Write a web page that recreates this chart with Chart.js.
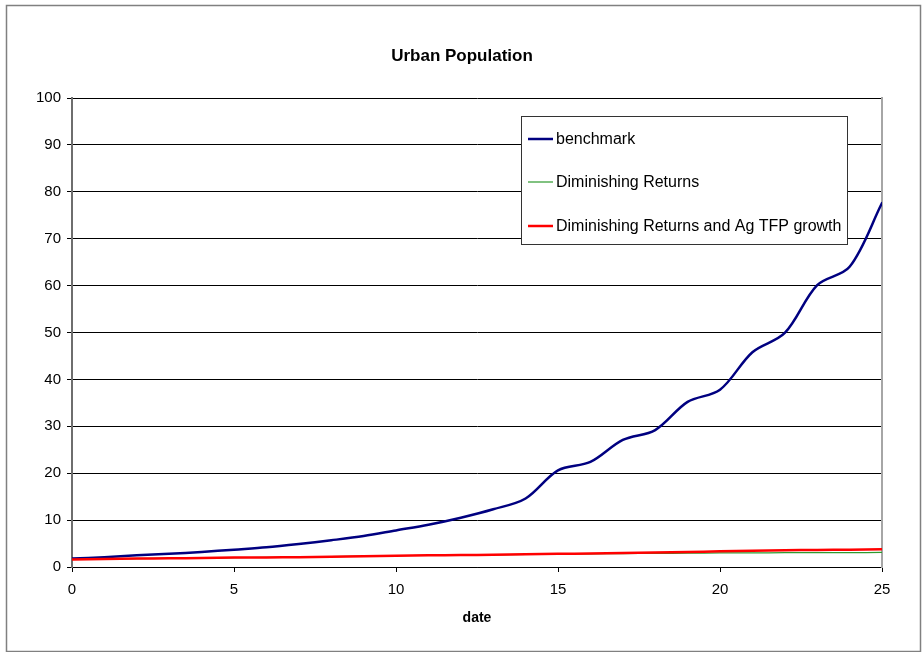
<!DOCTYPE html>
<html>
<head>
<meta charset="utf-8">
<title>Urban Population</title>
<script src="https://cdn.jsdelivr.net/npm/chart.js@4"></script>
<style>
  html, body { margin: 0; padding: 0; background: #ffffff; }
  #wrap { width: 924px; height: 652px; position: relative; }
</style>
</head>
<body>
<div id="wrap"><canvas id="chart" width="924" height="652"></canvas></div>
<script>
// Simulation dates (periods 0..25)
const dates = [0,1,2,3,4,5,6,7,8,9,10,11,12,13,14,15,16,17,18,19,20,21,22,23,24,25];

// Urban population share under each scenario
const benchmark = [1.8,2.1,2.5,2.8,3.2,3.7,4.2,4.9,5.7,6.6,7.8,9.0,10.5,12.3,14.6,20.6,22.4,27.1,29.2,35.2,37.8,45.8,49.9,60.1,64.0,77.6];
const diminishingReturns = [1.6,1.7,1.8,1.85,1.9,2.0,2.05,2.1,2.2,2.3,2.4,2.5,2.55,2.6,2.7,2.75,2.8,2.85,2.9,2.95,3.0,3.0,3.05,3.05,3.05,3.1];
const dimReturnsAgTFP = [1.6,1.7,1.8,1.85,1.9,2.0,2.05,2.1,2.2,2.3,2.4,2.5,2.55,2.6,2.7,2.8,2.9,3.0,3.1,3.2,3.35,3.45,3.55,3.65,3.7,3.8];

const seriesNames = ['benchmark', 'Diminishing Returns', 'Diminishing Returns and Ag TFP growth'];
const xTicks = [0, 5, 10, 15, 20, 25];
const yTicks = [0, 10, 20, 30, 40, 50, 60, 70, 80, 90, 100];

const FONT = 'Arial, "Liberation Sans", sans-serif';

function toPoints(values) {
  return dates.map((d, i) => ({ x: d, y: values[i] }));
}

// White page with a thin frame around the whole figure
const framePlugin = {
  id: 'frame',
  beforeDraw(chart) {
    const ctx = chart.ctx;
    ctx.save();
    ctx.fillStyle = '#ffffff';
    ctx.fillRect(0, 0, chart.width, chart.height);
    ctx.strokeStyle = '#808080';
    ctx.lineWidth = 1.5;
    ctx.strokeRect(6.5, 5.5, chart.width - 10, chart.height - 6);
    ctx.restore();
  }
};

// Boxed legend sitting inside the plot area
const boxLegend = {
  id: 'boxLegend',
  afterDraw(chart) {
    const ctx = chart.ctx;
    const x0 = 521, y0 = 116, w = 326, h = 128;
    const rows = [139, 182, 226];
    ctx.save();
    ctx.fillStyle = '#ffffff';
    ctx.fillRect(x0, y0, w, h);
    ctx.strokeStyle = '#333333';
    ctx.lineWidth = 1;
    ctx.strokeRect(x0 + 0.5, y0 + 0.5, w, h);
    ctx.font = '16px ' + FONT;
    ctx.textBaseline = 'middle';
    ctx.textAlign = 'left';
    chart.data.datasets.forEach((ds) => {
      const idx = seriesNames.indexOf(ds.label);
      const y = rows[idx];
      ctx.strokeStyle = ds.borderColor;
      ctx.lineWidth = ds.borderWidth;
      ctx.beginPath();
      ctx.moveTo(528, y);
      ctx.lineTo(553, y);
      ctx.stroke();
      ctx.fillStyle = '#000000';
      ctx.fillText(ds.label, 556, y + 1);
    });
    ctx.restore();
  }
};

new Chart(document.getElementById('chart'), {
  type: 'line',
  data: {
    datasets: [
      {
        label: seriesNames[0],
        data: toPoints(benchmark),
        borderColor: '#000080',
        borderWidth: 2.5,
        order: 2
      },
      {
        label: seriesNames[1],
        data: toPoints(diminishingReturns),
        borderColor: '#2e9a2e',
        borderWidth: 1.2,
        order: 1
      },
      {
        label: seriesNames[2],
        data: toPoints(dimReturnsAgTFP),
        borderColor: '#ff0000',
        borderWidth: 2.5,
        order: 0
      }
    ]
  },
  options: {
    responsive: false,
    animation: false,
    devicePixelRatio: 1,
    layout: { padding: 0 },
    elements: {
      point: { radius: 0, hoverRadius: 0 },
      line: { tension: 0.33, fill: false, borderCapStyle: 'round', borderJoinStyle: 'round' }
    },
    plugins: {
      legend: { display: false },
      tooltip: { enabled: false },
      title: {
        display: true,
        text: 'Urban Population',
        color: '#000000',
        font: { family: FONT, size: 17, weight: 'bold' },
        padding: { top: 46, bottom: 31.6 }
      }
    },
    scales: {
      x: {
        type: 'linear',
        min: 0,
        max: 25,
        afterBuildTicks(scale) { scale.ticks = xTicks.map(v => ({ value: v })); },
        afterFit(scale) { scale.height = 85; },
        ticks: {
          color: '#000000',
          font: { family: FONT, size: 15 },
          padding: 9,
          maxRotation: 0
        },
        grid: {
          drawOnChartArea: false,
          drawTicks: true,
          tickLength: 5,
          color: '#000000'
        },
        border: { color: '#000000', width: 1 },
        title: {
          display: true,
          text: 'date',
          color: '#000000',
          font: { family: FONT, size: 14, weight: 'bold' },
          padding: { top: 4, bottom: 25 }
        }
      },
      y: {
        type: 'linear',
        position: 'left',
        min: 0,
        max: 100,
        afterBuildTicks(scale) { scale.ticks = yTicks.map(v => ({ value: v })); },
        afterFit(scale) { scale.width = 72; },
        ticks: {
          color: '#000000',
          font: { family: FONT, size: 15 },
          padding: 6
        },
        grid: {
          color: '#000000',
          lineWidth: 1,
          tickLength: 5
        },
        border: { color: '#6e6e6e', width: 2 }
      },
      yRight: {
        type: 'linear',
        position: 'right',
        min: 0,
        max: 100,
        afterFit(scale) { scale.width = 42; },
        ticks: { display: false },
        grid: { display: false, drawTicks: false },
        border: { color: '#a6a6a6', width: 2 }
      }
    }
  },
  plugins: [framePlugin, boxLegend]
});
</script>
</body>
</html>
